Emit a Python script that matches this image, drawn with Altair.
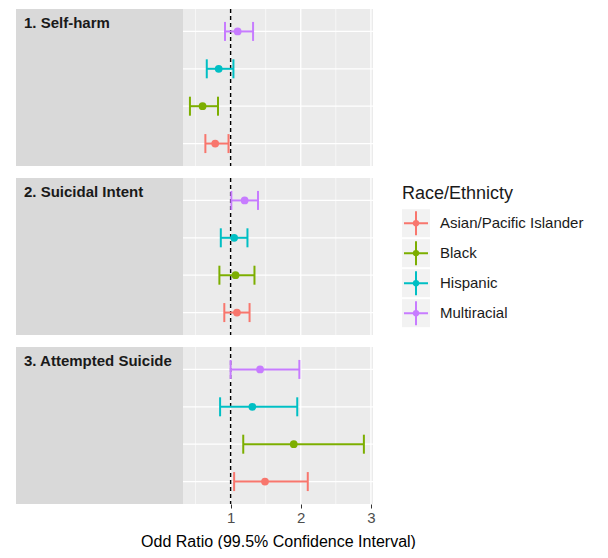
import altair as alt
import pandas as pd

FONT = "Liberation Sans"

outcomes = ["1. Self-harm", "2. Suicidal Intent", "3. Attempted Suicide"]
races = ["Asian/Pacific Islander", "Black", "Hispanic", "Multiracial"]
colors = ["#F8766D", "#7CAE00", "#00BFC4", "#C77CFF"]
legend_title = "Race/Ethnicty"

# odds ratios and 99.5% CI bounds, in the order of `races`
self_harm_or = [0.78, 0.60, 0.83, 1.10]
self_harm_lo = [0.64, 0.42, 0.66, 0.92]
self_harm_hi = [0.97, 0.82, 1.04, 1.32]

intent_or = [1.09, 1.07, 1.05, 1.20]
intent_lo = [0.91, 0.84, 0.86, 1.01]
intent_hi = [1.27, 1.34, 1.24, 1.39]

attempt_or = [1.49, 1.90, 1.31, 1.42]
attempt_lo = [1.05, 1.18, 0.85, 1.00]
attempt_hi = [2.10, 2.90, 1.95, 1.98]

x_ticks = [1, 2, 3]
x_minor = [0.5, 1.5, 2.5]
ref_line = [1]

W = 357
H = 157
GRAY_W = 167

xscale = alt.Scale(domain=[-2.06, 3.03], nice=False, zero=False)
yscale = alt.Scale(domain=races[::-1], type="point", padding=0.6)
cscale = alt.Scale(domain=races, range=colors)
color = alt.Color("race:N", scale=cscale, legend=None)


def legend_layers():
    ldf = pd.DataFrame({"race": races})
    lscale = alt.Scale(domain=races, type="point", range=[45.2, 135.2], padding=0)
    ly = alt.Y("race:N", scale=lscale, axis=None)
    key_x = 400
    key_bg = alt.Chart(ldf).mark_point(
        shape="square", size=784, filled=True, color="#f2f2f2", opacity=1).encode(
        x=alt.value(key_x), y=ly)
    key_cross = alt.Chart(ldf).mark_point(
        shape="M-1,0H1M0,-1V1", size=576, filled=False, strokeWidth=2, opacity=1).encode(
        x=alt.value(key_x), y=ly, color=color)
    key_dot = alt.Chart(ldf).mark_point(
        shape="circle", size=40, filled=True, opacity=1).encode(
        x=alt.value(key_x), y=ly, color=color)
    key_label = alt.Chart(ldf).mark_text(
        align="left", baseline="middle", font=FONT, fontSize=15,
        color="#1a1a1a").encode(x=alt.value(424), y=ly, text="race:N")
    title = alt.Chart(pd.DataFrame({"t": [legend_title]})).mark_text(
        align="left", baseline="alphabetic", font=FONT, fontSize=18,
        color="#1a1a1a").encode(x=alt.value(386), y=alt.value(20.5), text="t:N")
    return [key_bg, key_cross, key_dot, key_label, title]


def panel(title, ors, los, his, show_axis, with_legend):
    if show_axis:
        xaxis = alt.Axis(values=x_ticks, grid=False, domain=False, ticks=True,
                         tickColor="#333333", tickSize=4, tickWidth=1,
                         labelFontSize=15, labelColor="#4d4d4d", labelFont=FONT,
                         labelPadding=2,
                         title="Odd Ratio (99.5% Confidence Interval)",
                         titleFont=FONT, titleFontSize=16, titleFontWeight="normal",
                         titleColor="#000000", titleX=262, titlePadding=8)
    else:
        xaxis = None
    df = pd.DataFrame({"race": races, "or": ors, "lo": los, "hi": his})
    tdf = pd.DataFrame({"title": [title]})
    y = alt.Y("race:N", scale=yscale, axis=None)

    major = alt.Chart(pd.DataFrame({"x": x_ticks})).mark_rule(
        color="white", strokeWidth=1.3).encode(
        x=alt.X("x:Q", scale=xscale, axis=xaxis),
        y=alt.value(0), y2=alt.value(H))
    minor = alt.Chart(pd.DataFrame({"x": x_minor})).mark_rule(
        color="white", strokeWidth=0.6).encode(
        x=alt.X("x:Q", scale=xscale, axis=xaxis),
        y=alt.value(0), y2=alt.value(H))
    hgrid = alt.Chart(df).mark_rule(color="white", strokeWidth=1.3).encode(
        y=y, x=alt.value(0), x2=alt.value(W))
    gray = alt.Chart(tdf).mark_rect(color="#d9d9d9").encode(
        x=alt.value(0), x2=alt.value(GRAY_W), y=alt.value(0), y2=alt.value(H))
    label = alt.Chart(tdf).mark_text(
        align="left", baseline="top", font=FONT, fontSize=15,
        fontWeight="bold", color="#1a1a1a").encode(
        x=alt.value(8), y=alt.value(7), text="title:N")
    dashed = alt.Chart(pd.DataFrame({"x": ref_line})).mark_rule(
        color="black", strokeWidth=1.4, strokeDash=[4, 3]).encode(
        x=alt.X("x:Q", scale=xscale, axis=xaxis),
        y=alt.value(0), y2=alt.value(H))
    bars = alt.Chart(df).mark_rule(strokeWidth=2).encode(
        x=alt.X("lo:Q", scale=xscale, axis=xaxis), x2="hi:Q", y=y, color=color)
    cap_lo = alt.Chart(df).mark_point(
        shape="M0,-1V1", size=361, filled=False, strokeWidth=2, opacity=1).encode(
        x=alt.X("lo:Q", scale=xscale, axis=xaxis), y=y, color=color)
    cap_hi = alt.Chart(df).mark_point(
        shape="M0,-1V1", size=361, filled=False, strokeWidth=2, opacity=1).encode(
        x=alt.X("hi:Q", scale=xscale, axis=xaxis), y=y, color=color)
    pts = alt.Chart(df).mark_point(
        shape="circle", size=60, filled=True, opacity=1).encode(
        x=alt.X("or:Q", scale=xscale, axis=xaxis), y=y, color=color)
    layers = [minor, major, hgrid, gray, label, dashed, bars, cap_lo, cap_hi, pts]
    if with_legend:
        layers += legend_layers()
    ch = alt.layer(*layers).properties(
        width=W, height=H,
        view=alt.ViewBackground(fill="#ebebeb", stroke=None))
    if with_legend:
        ch = ch.resolve_scale(y="independent")
    return ch


p1 = panel(outcomes[0], self_harm_or, self_harm_lo, self_harm_hi, False, False)
p2 = panel(outcomes[1], intent_or, intent_lo, intent_hi, False, True)
p3 = panel(outcomes[2], attempt_or, attempt_lo, attempt_hi, True, False)

chart = alt.vconcat(p1, p2, p3, spacing=10).properties(
    padding={"left": 7, "top": 0, "right": 0, "bottom": 0}
).configure_view(stroke=None)

chart.save("out.html", embed_options={"renderer": "svg", "actions": False})
